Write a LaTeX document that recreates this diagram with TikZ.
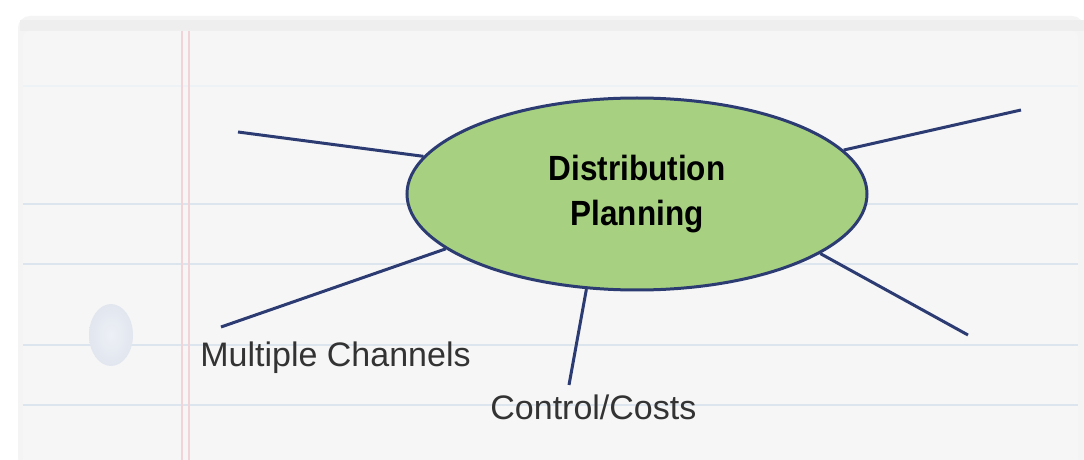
\documentclass[tikz,border=0pt]{standalone}
\usepackage{fontspec}
\setmainfont{Liberation Sans}
\newfontfamily\titlefont[FakeStretch=0.9]{Liberation Sans}
\usetikzlibrary{shapes.geometric}
\definecolor{paper}{HTML}{F6F6F7}
\definecolor{rule}{HTML}{DCE5EE}
\definecolor{margin}{HTML}{F2D3D7}
\definecolor{leaf}{HTML}{A7D180}
\definecolor{navy}{HTML}{2C3C72}
\definecolor{ink}{HTML}{333333}
\definecolor{hole}{HTML}{E1E6EF}
\tikzset{
  spoke/.style={navy,line width=1.5pt},
  label/.style={anchor=base west,inner sep=0pt,text=ink,font=\fontsize{17}{20}\selectfont}
}
\begin{document}
\begin{tikzpicture}[x=0.5pt,y=-0.5pt]
    \useasboundingbox (0,0) rectangle (1084,460);
    \fill[white] (0,0) rectangle (1084,460);
    % sheet of paper
    \fill[gray!9,rounded corners=6pt] (18,16) rectangle (1084,470);
    \fill[gray!13] (20,20) rectangle (1084,31);
    \fill[paper,rounded corners=3pt] (23,31) rectangle (1078,470);
    \foreach \y in {204,264,345,405}
    \draw[rule,line width=1.2pt] (23,\y) -- (1078,\y);
    \draw[rule!50,line width=1pt] (23,86) -- (1078,86);
    \draw[margin,line width=0.8pt] (182,31) -- (182,460);
    \draw[margin,line width=0.8pt] (189,31) -- (189,460);
    %\draw[loosely dotted] (0,0) grid (1084,460);
    \shade[inner color=hole!60,outer color=hole] (111,335) ellipse (22 and 31);
    % centre of the map
    \node[ellipse,draw=navy,line width=1.5pt,fill=leaf,minimum width=230pt,
          minimum height=96pt,inner sep=0pt,align=center,
          font=\titlefont\bfseries\fontsize{17.5}{22.5}\selectfont] (plan) at (637,194)
          {Distribution\\Planning};
    \coordinate (ul) at (238,132);
    \coordinate (ll) at (221,327);
    \coordinate (bt) at (569,385);
    \coordinate (ur) at (1021,110);
    \coordinate (lr) at (968,335);
    \draw[spoke] (plan.170) -- (ul);
    \draw[spoke] (plan.196) -- (ll);
    \draw[spoke] (plan.242) -- (bt);
    \draw[spoke] (plan.12) -- (ur);
    \draw[spoke] (plan.342) -- (lr);
    \node[label] (multi) at (200,367) {Multiple Channels};
    \node[label] (ctrl) at (490,420) {Control/Costs};
\end{tikzpicture}
\end{document}
